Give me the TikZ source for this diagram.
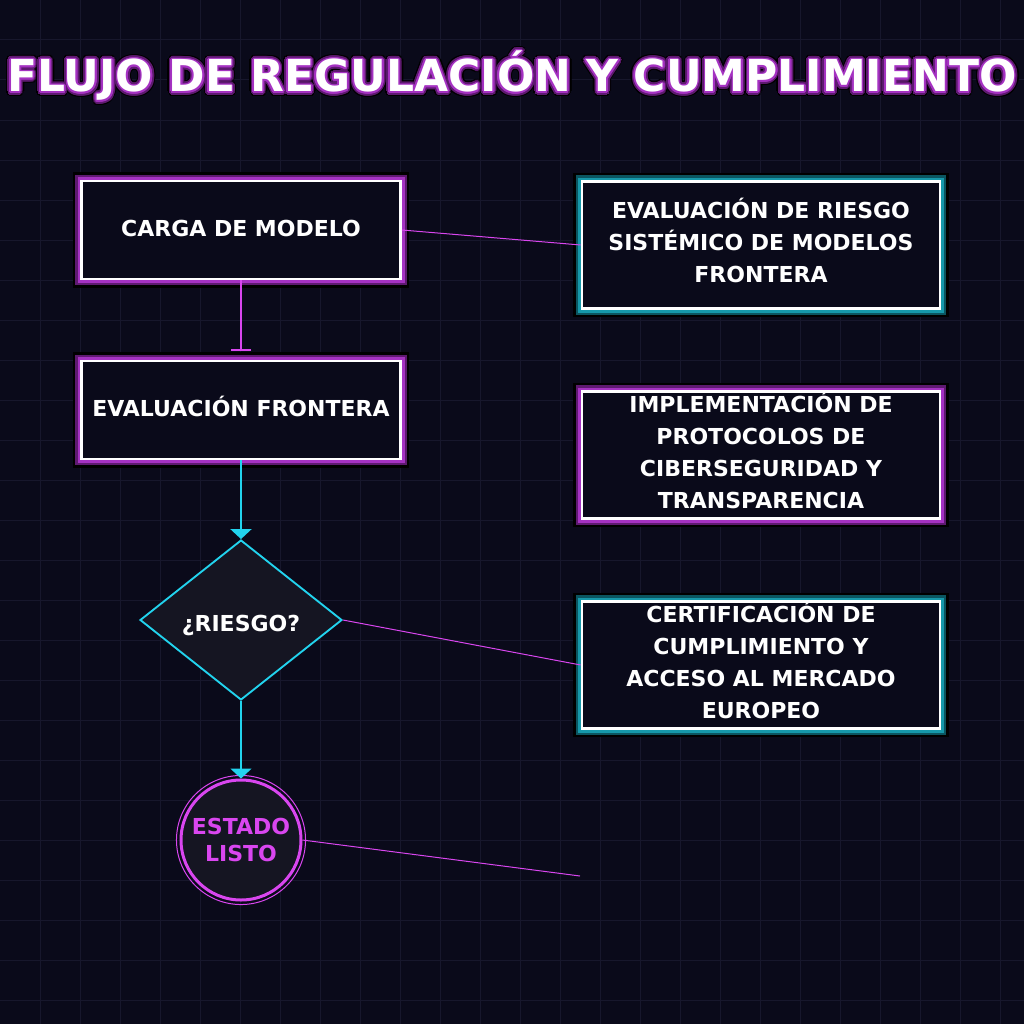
\documentclass[tikz,border=0pt]{standalone}
\usepackage{fontspec}
\setmainfont{DejaVu Sans}
\usetikzlibrary{shapes.geometric,arrows.meta}
\definecolor{bgcol}{HTML}{0A0A1A}
\definecolor{gridcol}{HTML}{17172C}
\definecolor{shapecol}{HTML}{151522}
\definecolor{magline}{HTML}{D946EF}
\definecolor{cyanline}{HTML}{22D3EE}
\definecolor{purpledark}{HTML}{5E1A70}
\definecolor{purplelight}{HTML}{A532C2}
\definecolor{tealdark}{HTML}{0B5560}
\definecolor{teallight}{HTML}{1698AA}
\newcommand{\titletxt}{FLUJO DE REGULACIÓN Y CUMPLIMIENTO}

\begin{document}
\begin{tikzpicture}[x=0.75pt,y=-0.75pt,
  titletext/.style={font=\fontsize{33}{38}\selectfont\bfseries,inner sep=0pt,
    text height=24pt,text depth=0pt},
  boxtext/.style={text=white,font=\fontsize{16.5}{24}\selectfont\bfseries,align=center,
    text height=12pt},
  glowbox/.style={rectangle,draw=white,line width=2pt,fill=bgcol,inner sep=0pt,
    preaction={draw=black,line width=13pt},
    preaction={draw=#1dark,line width=9.5pt},
    preaction={draw=#1light,line width=6pt},boxtext},
  smallbox/.style={glowbox=purple,minimum width=239.25pt,minimum height=73.5pt,
    text depth=3pt},
  widebox/.style={glowbox=#1,minimum width=268.5pt,minimum height=95.25pt,
    text depth=4.5pt},
  decision/.style={diamond,draw=cyanline,line width=1.4pt,fill=shapecol,
    minimum width=151.5pt,minimum height=120pt,inner sep=0pt,boxtext,
    text height=17pt,text depth=0pt},
  endstate/.style={circle,draw=magline,line width=2.25pt,fill=shapecol,
    minimum size=90pt,inner sep=0pt,boxtext,text=magline,
    font=\fontsize{16.5}{20.25}\selectfont\bfseries,
    text height=32.25pt,text depth=0pt},
  flowmag/.style={draw=magline,line width=1.5pt,-{Bar[width=15pt]},shorten >=6.75pt},
  flowcyan/.style={draw=cyanline,line width=1.6pt,-{Triangle[width=15.75pt,length=7.5pt]}},
  thinlink/.style={draw=magline,line width=0.75pt},
  gridline/.style={draw=gridcol,line width=0.75pt}]

  % background and grid
  \fill[bgcol] (0,0) rectangle (1024,1024);
  \useasboundingbox (0,0) rectangle (1024,1024);
  \foreach \g in {40,80,...,1000}{
    \draw[gridline] (\g,0) -- (\g,1024);
    \draw[gridline] (0,\g) -- (1024,\g);
  }

  % title with glow
  \foreach \a [count=\i] in {0,22.5,...,337.5}{
    \node[titletext,text=black] (tsh\i) at ([shift={(\a:3.6pt)}]512,76) {\titletxt};
  }
  \foreach \a [count=\i] in {0,22.5,...,337.5}{
    \node[titletext,text=purpledark] (tgo\i) at ([shift={(\a:2.6pt)}]512,76) {\titletxt};
  }
  \foreach \a [count=\i] in {0,30,...,330}{
    \node[titletext,text=purplelight] (tgi\i) at ([shift={(\a:1.3pt)}]512,76) {\titletxt};
  }
  \node[titletext,text=white] (title) at (512,76) {\titletxt};

  % flow
  \node[smallbox] (carga) at (241,230) {CARGA DE MODELO};
  \node[smallbox] (evalf) at (241,410) {EVALUACIÓN FRONTERA};
  \node[decision] (riesgo) at (241,620) {¿RIESGO?};
  \node[endstate] (listo) at (241,840) {ESTADO\\LISTO};
  \draw[magline,line width=0.75pt] (listo.center) circle[radius=48.4pt];

  % right column
  \node[widebox=teal,text height=60pt] (sistemico) at (761,245)
    {EVALUACIÓN DE RIESGO\\SISTÉMICO DE MODELOS\\FRONTERA};
  \node[widebox=purple,text height=84pt] (ciber) at (761,455)
    {IMPLEMENTACIÓN DE\\PROTOCOLOS DE\\CIBERSEGURIDAD Y\\TRANSPARENCIA};
  \node[widebox=teal,text height=84pt] (certif) at (761,665)
    {CERTIFICACIÓN DE\\CUMPLIMIENTO Y\\ACCESO AL MERCADO\\EUROPEO};
  \coordinate (libre) at (580,876);

  % connectors
  \draw[flowmag] (carga.south) -- (evalf.north);
  \draw[flowcyan] (evalf.south) -- (riesgo.north);
  \draw[flowcyan] (riesgo.south) -- (listo.north);
  \draw[thinlink] (carga.east) -- (sistemico.west);
  \draw[thinlink] (riesgo.east) -- (certif.west);
  \draw[thinlink] (listo.east) -- (libre);
\end{tikzpicture}
\end{document}
